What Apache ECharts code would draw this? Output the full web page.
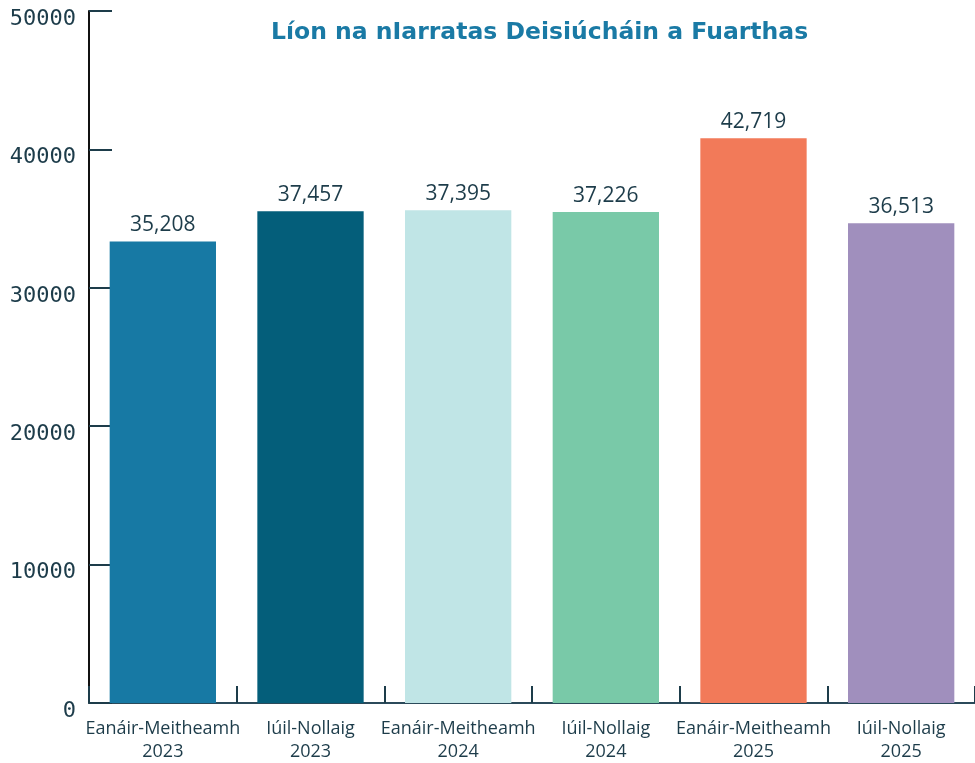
<!DOCTYPE html>
<html>
<head>
<meta charset="utf-8">
<script src="https://cdn.jsdelivr.net/npm/echarts@6/dist/echarts.min.js"></script>
<style>
  html, body { margin: 0; padding: 0; background: #fff; }
  #chart { width: 975px; height: 763px; }
</style>
</head>
<body>
<div id="chart"></div>
<script>
// data
var periods = ['Eanáir-Meitheamh\n2023', 'Iúil-Nollaig\n2023', 'Eanáir-Meitheamh\n2024',
               'Iúil-Nollaig\n2024', 'Eanáir-Meitheamh\n2025', 'Iúil-Nollaig\n2025'];
// printed totals above each bar
var reportedTotals = [35208, 37457, 37395, 37226, 42719, 36513];
// bar heights as drawn against the axis
var barHeights = [33350, 35540, 35610, 35470, 40800, 34670];
var barColors = ['#1779a4', '#045e7a', '#c0e5e6', '#79c9a8', '#f27a59', '#a08fbd'];
var yTicks = [0, 10000, 20000, 30000, 40000, 50000];

var textColor = '#1d3c4a';

var myChart = echarts.init(document.getElementById('chart'));
myChart.setOption({
    backgroundColor: '#fff',
    animation: false,
    title: {
        text: 'Líon na nIarratas Deisiúcháin a Fuarthas',
        left: 266,
        top: 16,
        textStyle: {
            color: '#1a7aa5',
            fontFamily: 'DejaVu Sans',
            fontWeight: 'bold',
            fontSize: 23.5
        }
    },
    grid: {
        left: 89,
        right: -6,
        top: 11,
        bottom: 59
    },
    xAxis: {
        type: 'category',
        data: periods,
        axisLine: { lineStyle: { color: '#2b4a5a', width: 2 } },
        axisTick: { show: true, inside: true, length: 17, lineStyle: { color: '#1d3c4a', width: 2 } },
        axisLabel: {
            color: textColor,
            fontFamily: 'Open Sans',
            fontSize: 18,
            lineHeight: 23,
            margin: 14,
            interval: 0
        }
    },
    yAxis: {
        type: 'value',
        min: yTicks[0],
        max: yTicks[yTicks.length - 1],
        interval: yTicks[1] - yTicks[0],
        splitLine: { show: false },
        axisLine: { show: true, lineStyle: { color: '#111111', width: 2 } },
        axisTick: { show: true, inside: true, length: 23, lineStyle: { color: '#1d3c4a', width: 2 } },
        axisLabel: {
            color: textColor,
            fontFamily: 'DejaVu Sans Mono',
            fontSize: 22,
            lineHeight: 16,
            verticalAlign: 'top',
            margin: 13,
            formatter: function (v) { return String(v); }
        }
    },
    series: [{
        name: 'Iarratais',
        type: 'bar',
        barCategoryGap: '28%',
        data: barHeights.map(function (v, i) {
            return { value: v, itemStyle: { color: barColors[i] } };
        }),
        label: {
            show: true,
            position: 'top',
            distance: 6,
            color: textColor,
            fontFamily: 'Open Sans',
            fontSize: 21,
            formatter: function (p) {
                return reportedTotals[p.dataIndex].toLocaleString('en-US');
            }
        }
    }]
});
</script>
</body>
</html>
